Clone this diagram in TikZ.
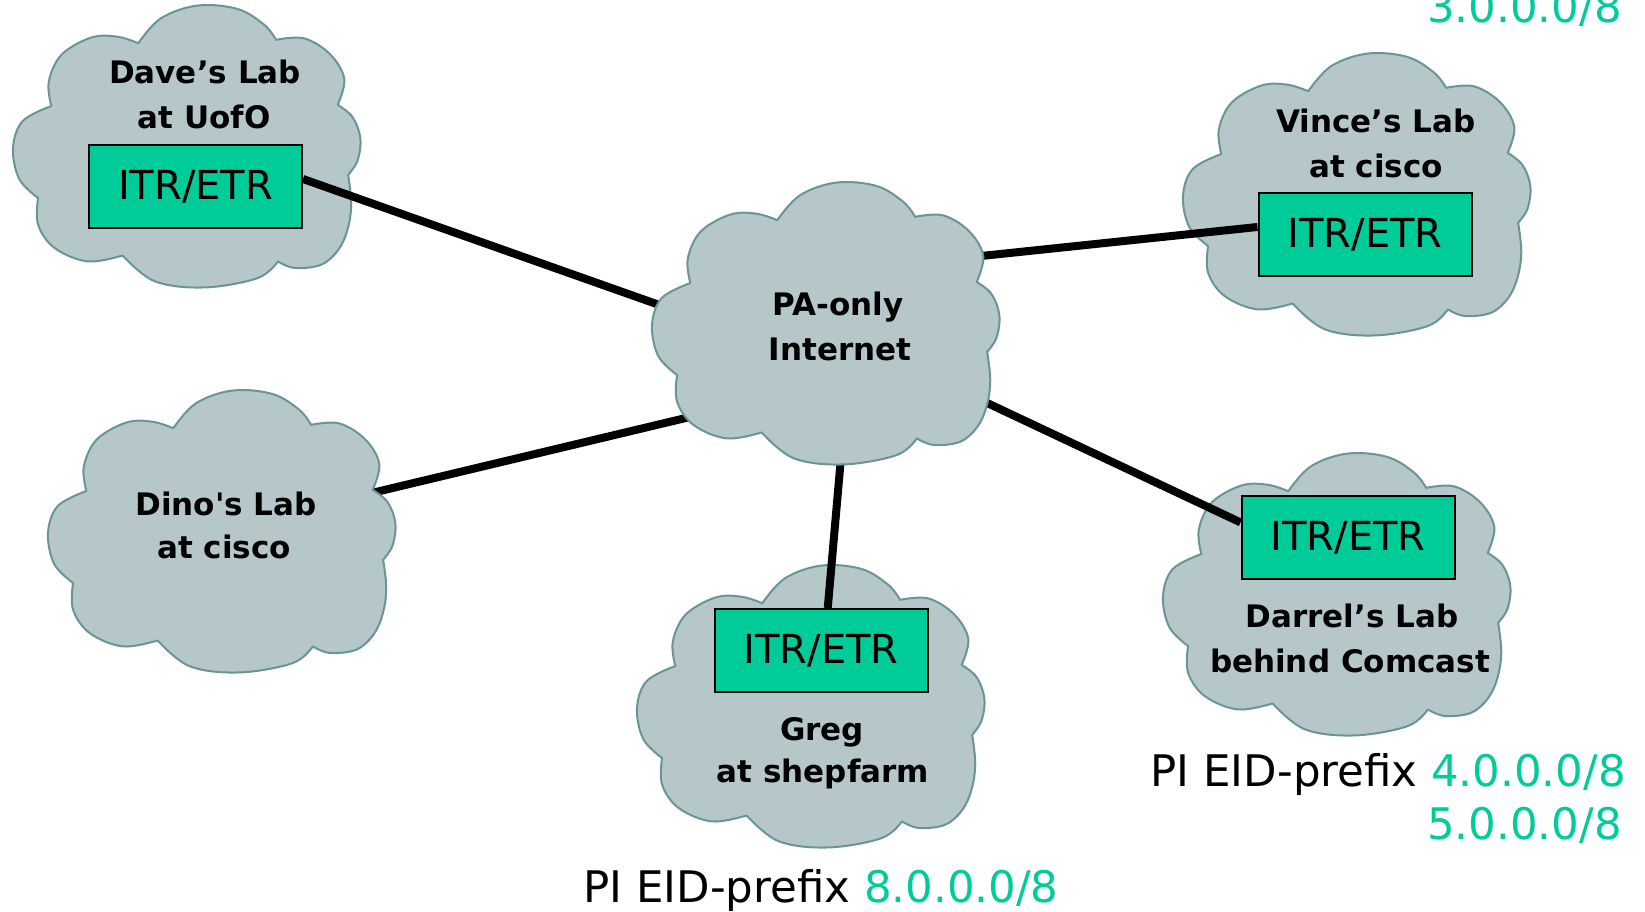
\documentclass[tikz,border=0pt]{standalone}
\usepackage{fontspec}
\setmainfont{DejaVu Sans}
\pgfdeclarelayer{sat}
\pgfdeclarelayer{links}
\pgfdeclarelayer{hub}
\pgfsetlayers{sat,links,hub,main}
\definecolor{cloudfill}{RGB}{181,199,201}
\definecolor{cloudline}{RGB}{106,148,150}
\definecolor{itrgreen}{RGB}{0,204,153}
\tikzset{
  cloudsty/.style={fill=cloudfill, draw=cloudline, line width=2pt, line join=round},
  puff/.style={smooth, tension=0.6},
  itrbox/.style={draw=black, line width=2pt, fill=itrgreen, minimum width=213pt,
    minimum height=83pt, inner sep=0pt, font=\fontsize{40}{44}\selectfont},
  lbl/.style={anchor=base, inner sep=0pt, font=\bfseries\fontsize{31}{36}\selectfont},
  pitext/.style={inner sep=0pt, font=\fontsize{43.5}{50}\selectfont},
  link/.style={line width=8pt, black},
}
% cloud outline in a 348 x 283 px frame, #1 = left, #2 = top (px)
\newcommand\drawcloud[2]{%
  \begin{scope}[shift={(#1,#2)}, x=348pt, y=-283pt]
  \path[cloudsty]
    plot[puff] coordinates {(0.110,0.357) (0.103,0.270) (0.140,0.175) (0.225,0.115) (0.300,0.112) (0.360,0.135)}
    -- plot[puff] coordinates {(0.360,0.135) (0.425,0.047) (0.530,0.002) (0.645,0.014) (0.722,0.070) (0.756,0.123)}
    -- plot[puff] coordinates {(0.756,0.123) (0.837,0.118) (0.912,0.175) (0.952,0.262) (0.933,0.353)}
    -- plot[puff] coordinates {(0.933,0.353) (0.975,0.395) (0.998,0.470) (0.990,0.550) (0.963,0.600)}
    -- plot[puff] coordinates {(0.963,0.600) (0.972,0.700) (0.962,0.790) (0.935,0.865) (0.885,0.918) (0.809,0.929) (0.761,0.906)}
    -- plot[puff] coordinates {(0.761,0.906) (0.703,0.965) (0.550,0.998) (0.407,0.976) (0.315,0.885)}
    -- plot[puff] coordinates {(0.315,0.885) (0.215,0.906) (0.120,0.859) (0.072,0.776) (0.072,0.682)}
    -- plot[puff] coordinates {(0.072,0.682) (0.018,0.615) (0.000,0.506) (0.028,0.410) (0.110,0.357)}
    -- cycle;
  \end{scope}}
\begin{document}
\begin{tikzpicture}[x=1pt, y=-1pt]
\useasboundingbox (0,0) rectangle (1645,911);

% satellite clouds (connectors run over them)
\begin{pgfonlayer}{sat}
\drawcloud{13}{5}
\drawcloud{1183}{53}
\drawcloud{637}{565}
\drawcloud{1163}{453}
\end{pgfonlayer}
% clouds that hide the connector ends
\begin{pgfonlayer}{hub}
\drawcloud{652}{182}
\drawcloud{48}{390}
\end{pgfonlayer}

% cloud labels
\node[lbl] (daveA) at (205,83) {Dave’s Lab};
\node[lbl] (daveB) at (204,128) {at UofO};
\node[lbl] (paA) at (838,315) {PA-only};
\node[lbl] (paB) at (840,360) {Internet};
\node[lbl] (vinceA) at (1376,132) {Vince’s Lab};
\node[lbl] (vinceB) at (1376,177) {at cisco};
\node[lbl] (dinoA) at (226,515) {Dino\textquotesingle s Lab};
\node[lbl] (dinoB) at (224,558) {at cisco};
\node[lbl] (gregA) at (822,740) {Greg};
\node[lbl] (gregB) at (823,782) {at shepfarm};
\node[lbl] (darA) at (1352,627) {Darrel’s Lab};
\node[lbl] (darB) at (1350,672) {behind Comcast};

% ITR/ETR boxes
\node[itrbox] (dbox) at (195.5,186.5) {ITR/ETR};
\node[itrbox] (vbox) at (1365,234.5) {ITR/ETR};
\node[itrbox] (gbox) at (821,650.5) {ITR/ETR};
\node[itrbox] (rbox) at (1348,537.5) {ITR/ETR};

% connector ends, hidden under the clouds they meet
\coordinate (paDave) at (699,319);
\coordinate (paVince) at (943,260);
\coordinate (paGreg) at (844,423);
\coordinate (paDarrel) at (949,385);
\coordinate (paDino) at (736,406);
\coordinate (dinoEdge) at (334,502);

\begin{pgfonlayer}{links}
  \draw[link] (dbox.4.6) -- (paDave);
  \draw[link] (vbox.176.5) -- (paVince);
  \draw[link] (gbox.81.8) -- (paGreg);
  \draw[link] (rbox.172.2) -- (paDarrel);
  \draw[link] (dinoEdge) -- (paDino);
\end{pgfonlayer}

% prefix texts
\node[pitext, anchor=base] (pig) at (821,902) {PI EID-prefix \textcolor{itrgreen}{8.0.0.0/8}};
\node[pitext, anchor=base east] (pirA) at (1626,786) {PI EID-prefix \textcolor{itrgreen}{4.0.0.0/8}};
\node[pitext, anchor=base east, text=itrgreen] (pirB) at (1622,839) {5.0.0.0/8};
\node[pitext, anchor=base east, text=itrgreen] (pitop) at (1622,22) {3.0.0.0/8};
\end{tikzpicture}
\end{document}
